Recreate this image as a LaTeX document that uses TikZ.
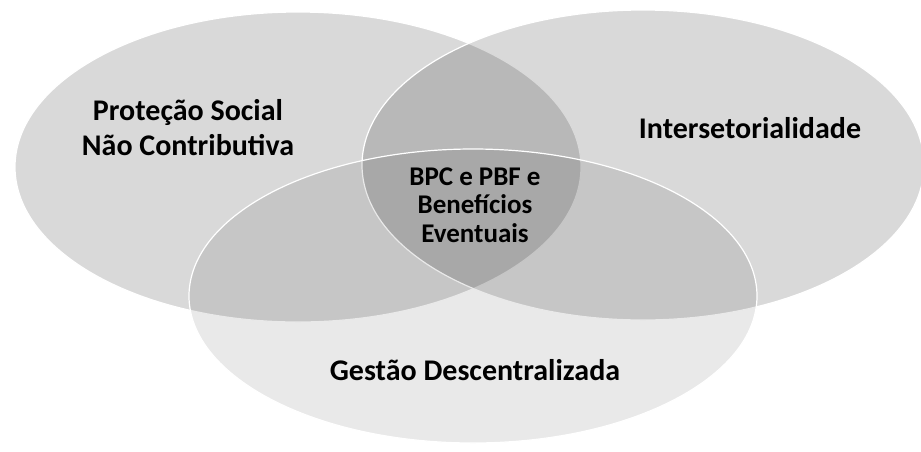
\documentclass[tikz,border=0pt]{standalone}
\usepackage{fontspec}
\setmainfont{Carlito}
\begin{document}
\begin{tikzpicture}[x=1pt,y=-1pt,
  setA/.style={fill=black,fill opacity=0.15,draw=white,draw opacity=1,line width=1.2pt},
  setB/.style={fill=black,fill opacity=0.085,draw=white,draw opacity=1,line width=1.2pt},
  lbl/.style={font=\bfseries\fontsize{30}{35}\selectfont,align=center,inner sep=0pt,text=black},
  lblc/.style={font=\bfseries\fontsize{27}{28.5}\selectfont,align=center,inner sep=0pt,text=black}]
\fill[white] (0,0) rectangle (921,451);
\useasboundingbox (0,0) rectangle (921,451);
\path[setA] (298,167) ellipse [x radius=283pt, y radius=155pt];
\path[setA] (643,165) ellipse [x radius=281pt, y radius=155pt];
\path[setB] (473,296) ellipse [x radius=284pt, y radius=147pt];
\node[lbl] (prot) at (188,128) {Proteção Social\\Não Contributiva};
\node[lbl,anchor=base] (inter) at (750,138) {Intersetorialidade};
\node[lblc] (bpc) at (475,205) {BPC e PBF e\\Benefícios\\Eventuais};
\node[lbl,anchor=base] (gest) at (475,380) {Gestão Descentralizada};
\end{tikzpicture}
\end{document}
